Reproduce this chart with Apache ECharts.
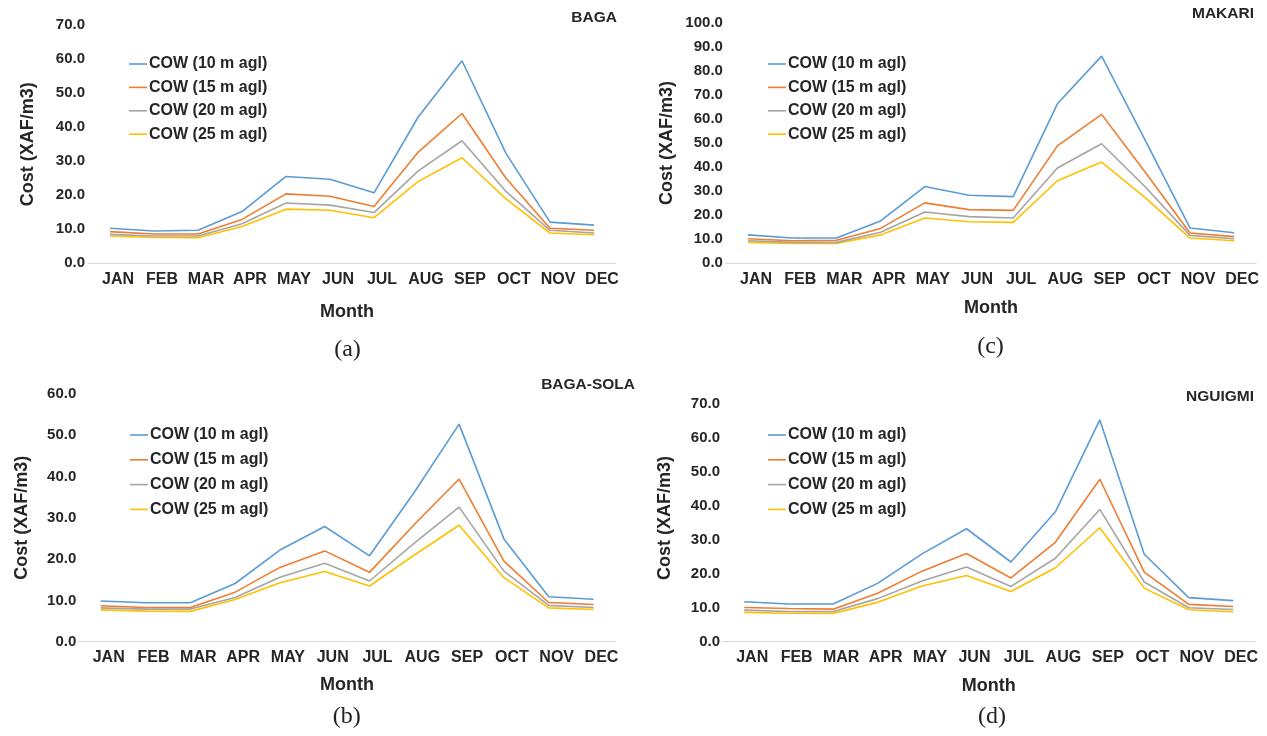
<!DOCTYPE html>
<html>
<head>
<meta charset="utf-8">
<title>Monthly cost of water</title>
<script src="https://cdn.jsdelivr.net/npm/echarts@6.0.0/dist/echarts.min.js"></script>
<style>
  html, body { margin: 0; padding: 0; background: #ffffff; }
  #chart { width: 1267px; height: 736px; }
</style>
</head>
<body>
<div id="chart"></div>
<script>
// Categories and series names
const months = ['JAN', 'FEB', 'MAR', 'APR', 'MAY', 'JUN', 'JUL', 'AUG', 'SEP', 'OCT', 'NOV', 'DEC'];
const heightNames = ['COW (10 m agl)', 'COW (15 m agl)', 'COW (20 m agl)', 'COW (25 m agl)'];

// Cost of water (XAF/m3) per month and hub height, per site
const baga10 = [10.3, 9.5, 9.7, 15.2, 25.5, 24.7, 20.7, 42.9, 59.5, 32.3, 12.1, 11.2];
const baga15 = [9.3, 8.6, 8.6, 12.9, 20.4, 19.7, 16.7, 32.6, 44.0, 25.0, 10.3, 9.7];
const baga20 = [8.5, 8.0, 8.0, 11.6, 17.7, 17.1, 14.9, 27.1, 36.0, 21.1, 9.7, 8.9];
const baga25 = [8.0, 7.6, 7.5, 10.8, 15.9, 15.6, 13.4, 24.0, 31.0, 18.9, 8.9, 8.4];

const bagaSola10 = [9.85, 9.45, 9.45, 14.1, 22.2, 27.9, 20.8, 36.2, 52.7, 24.9, 10.9, 10.3];
const bagaSola15 = [8.7, 8.3, 8.3, 12.0, 18.0, 22.0, 16.8, 28.4, 39.4, 19.5, 9.5, 9.0];
const bagaSola20 = [8.2, 7.9, 7.9, 10.7, 15.6, 19.0, 14.7, 23.9, 32.6, 17.1, 8.8, 8.3];
const bagaSola25 = [7.7, 7.4, 7.35, 10.2, 14.3, 17.0, 13.5, 21.0, 28.2, 15.5, 8.2, 7.8];

const makari10 = [11.8, 10.5, 10.5, 17.6, 31.9, 28.3, 27.7, 66.3, 86.1, 50.7, 14.7, 12.7];
const makari15 = [10.2, 9.4, 9.6, 14.5, 25.1, 22.3, 22.0, 48.8, 61.9, 37.5, 12.6, 11.1];
const makari20 = [9.4, 8.7, 8.7, 12.9, 21.3, 19.4, 18.8, 39.6, 49.7, 31.5, 11.6, 10.2];
const makari25 = [8.7, 8.2, 8.2, 11.8, 18.8, 17.3, 17.0, 34.3, 42.1, 27.1, 10.5, 9.4];

const nguigmi10 = [11.8, 11.1, 11.1, 17.2, 25.9, 33.3, 23.5, 38.3, 65.4, 25.8, 13.0, 12.1];
const nguigmi15 = [10.1, 9.8, 9.6, 14.3, 20.8, 26.0, 18.8, 29.3, 47.9, 20.5, 11.0, 10.4];
const nguigmi20 = [9.3, 8.9, 8.9, 12.7, 17.9, 22.0, 16.3, 24.6, 39.0, 17.6, 10.0, 9.5];
const nguigmi25 = [8.65, 8.4, 8.35, 11.6, 16.4, 19.5, 14.8, 21.8, 33.6, 15.8, 9.4, 8.85];

// Axis maxima per site (ticks every 10)
const yMaxBaga = 70;
const yMaxMakari = 100;
const yMaxBagaSola = 60;
const yMaxNguigmi = 70;

const lineColors = ['#5b9bd5', '#ed7d31', '#a5a5a5', '#ffc000'];
const textColor = '#262626';
const sans = '"Liberation Sans", Arial, Helvetica, sans-serif';
const serif = '"Liberation Serif", "Times New Roman", serif';

// One panel per site: 2x2 layout
const panels = [
  {
    site: 'BAGA', tag: '(a)', max: yMaxBaga,
    values: [baga10, baga15, baga20, baga25],
    grid: { left: 88, top: 25, width: 528, height: 238.3 },
    legend: { left: 129, top: 54, gap: 3.4 },
    siteAt: [617, 17.3], tagAt: [347.5, 350],
    yNameGap: 50.5, yNamePad: [0, 0, 0, 0], yLabelMargin: 3,
    xNameGap: 39.4, xNamePad: [0, 10, 0, 0], xLabelMargin: 8.7
  },
  {
    site: 'MAKARI', tag: '(c)', max: yMaxMakari,
    values: [makari10, makari15, makari20, makari25],
    grid: { left: 725.9, top: 22.7, width: 530.4, height: 240.6 },
    legend: { left: 768, top: 54, gap: 3.4 },
    siteAt: [1254, 13.3], tagAt: [990.5, 347],
    yNameGap: 50, yNamePad: [0, 0, 0, 0], yLabelMargin: 3,
    xNameGap: 36, xNamePad: [0, 0, 0, 0], xLabelMargin: 8.7
  },
  {
    site: 'BAGA-SOLA', tag: '(b)', max: yMaxBagaSola,
    values: [bagaSola10, bagaSola15, bagaSola20, bagaSola25],
    grid: { left: 78.3, top: 394, width: 537.6, height: 247.7 },
    legend: { left: 130, top: 425, gap: 4.8 },
    siteAt: [635, 385], tagAt: [346.7, 717],
    yNameGap: 47, yNamePad: [0, 0, 0, 0], yLabelMargin: 2,
    xNameGap: 34.3, xNamePad: [0, 0, 0, 0], xLabelMargin: 7.6
  },
  {
    site: 'NGUIGMI', tag: '(d)', max: yMaxNguigmi,
    values: [nguigmi10, nguigmi15, nguigmi20, nguigmi25],
    grid: { left: 722, top: 404.3, width: 533.4, height: 237.4 },
    legend: { left: 768, top: 425, gap: 4.8 },
    siteAt: [1254, 396.7], tagAt: [992, 717],
    yNameGap: 48, yNamePad: [0, 0, 0, 10], yLabelMargin: 2,
    xNameGap: 35.3, xNamePad: [0, 0, 0, 0], xLabelMargin: 7.6
  }
];

const option = {
  animation: false,
  backgroundColor: '#ffffff',
  grid: [], xAxis: [], yAxis: [], legend: [], series: [], graphic: []
};

panels.forEach(function (p, i) {
  option.grid.push(Object.assign({ containLabel: false }, p.grid));

  option.xAxis.push({
    type: 'category',
    gridIndex: i,
    data: months,
    boundaryGap: true,
    name: 'Month',
    nameLocation: 'middle',
    nameGap: p.xNameGap,
    nameTextStyle: { fontFamily: sans, fontWeight: 'bold', fontSize: 18, color: textColor, padding: p.xNamePad },
    axisLine: { show: true, lineStyle: { color: '#d9d9d9', width: 1 } },
    axisTick: { show: false },
    splitLine: { show: false },
    axisLabel: {
      interval: 0, margin: p.xLabelMargin, padding: [0, 0, 0, 16],
      fontFamily: sans, fontWeight: 'bold', fontSize: 16, color: textColor
    }
  });

  option.yAxis.push({
    type: 'value',
    gridIndex: i,
    min: 0, max: p.max, interval: 10,
    name: 'Cost (XAF/m3)',
    nameLocation: 'middle',
    nameGap: p.yNameGap,
    nameTextStyle: { fontFamily: sans, fontWeight: 'bold', fontSize: 18, color: textColor, padding: p.yNamePad },
    axisLine: { show: false },
    axisTick: { show: false },
    splitLine: { show: false },
    axisLabel: {
      margin: p.yLabelMargin,
      fontFamily: sans, fontWeight: 'bold', fontSize: 15, color: textColor,
      formatter: function (v) { return v.toFixed(1); }
    }
  });

  // Plain line samples; text sits slightly above the sample line
  option.legend.push({
    orient: 'vertical',
    left: p.legend.left, top: p.legend.top,
    padding: 0,
    icon: 'rect',
    itemWidth: 18, itemHeight: 1.6, itemGap: p.legend.gap,
    data: heightNames,
    selectedMode: false,
    textStyle: {
      fontFamily: sans, fontWeight: 'bold', fontSize: 16, color: textColor,
      lineHeight: 14, padding: [0, 0, 6, -3]
    }
  });

  p.values.forEach(function (vals, k) {
    option.series.push({
      type: 'line',
      name: heightNames[k],
      xAxisIndex: i, yAxisIndex: i,
      data: vals,
      symbol: 'none',
      color: lineColors[k],
      lineStyle: { color: lineColors[k], width: 1.6 },
      z: 10 - k
    });
  });

  option.graphic.push({
    type: 'text', x: p.siteAt[0], y: p.siteAt[1],
    style: {
      text: p.site, fill: textColor,
      font: 'bold 15.5px ' + sans,
      align: 'right', verticalAlign: 'middle',
      textAlign: 'right', textVerticalAlign: 'middle'
    }
  });
  option.graphic.push({
    type: 'text', x: p.tagAt[0], y: p.tagAt[1],
    style: {
      text: p.tag, fill: '#222222',
      font: '24px ' + serif,
      align: 'center', verticalAlign: 'middle',
      textAlign: 'center', textVerticalAlign: 'middle'
    }
  });
});

const chart = echarts.init(document.getElementById('chart'), null, { renderer: 'canvas' });
chart.setOption(option);
</script>
</body>
</html>
